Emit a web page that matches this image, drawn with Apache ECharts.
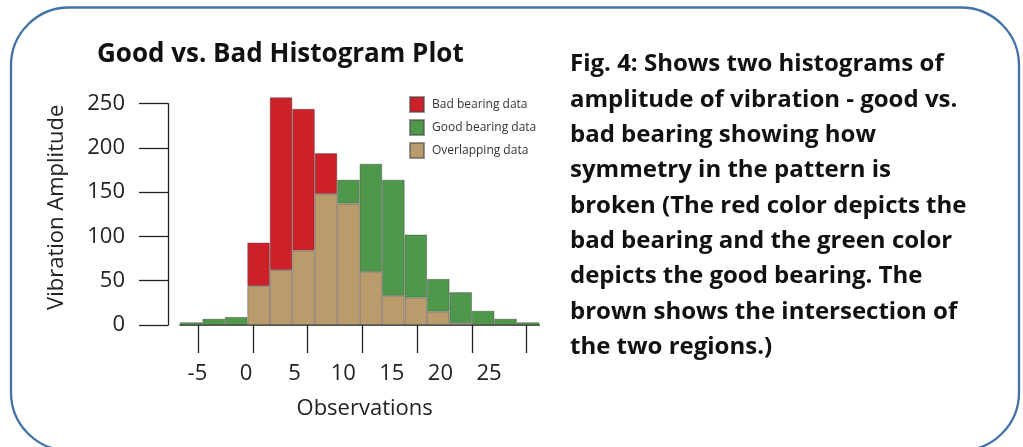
<!DOCTYPE html>
<html><head><meta charset="utf-8">
<script src="https://cdn.jsdelivr.net/npm/echarts@6/dist/echarts.min.js"></script>
<style>html,body{margin:0;padding:0;background:#fff}#c{width:1023px;height:447px}</style>
</head><body><div id="c"></div>
<script>
// histogram bins (approximate bin centres, observations)
const bins = ['-5.6','-3.6','-1.5','0.5','2.6','4.6','6.7','8.7','10.8','12.8','14.9','16.9','19.0','21.0','23.1','25.1'];
const badBearing  = [0, 0, 0, 93, 257, 244, 194, 137, 60, 33, 31, 15, 2, 0, 0, 0];
const goodBearing = [3, 7, 9, 44, 62, 84, 148, 164, 182, 164, 102, 52, 37, 16, 7, 3];
const xTickValues = [-5, 0, 5, 10, 15, 20, 25];
const yTickValues = [0, 50, 100, 150, 200, 250];
const titleText = 'Good vs. Bad Histogram Plot';
const captionLines = [
  'Fig. 4: Shows two histograms of',
  'amplitude of vibration - good vs.',
  'bad bearing showing how',
  'symmetry in the pattern is',
  'broken (The red color depicts the',
  'bad bearing and the green color',
  'depicts the good bearing. The',
  'brown shows the intersection of',
  'the two regions.)'
];

const nz = v => (v > 0 ? v : null);
const overlap = badBearing.map((b, i) => nz(Math.min(b, goodBearing[i])));
const badOnly = badBearing.map((b, i) => nz(b - goodBearing[i]));
const goodOnly = goodBearing.map((g, i) => nz(g - badBearing[i]));

const FONT = '"Open Sans", "Noto Sans", sans-serif';
const AX = '#222';
const chart = echarts.init(document.getElementById('c'), null, {renderer: 'canvas'});

const barBase = {
  type: 'bar', stack: 'hist', xAxisIndex: 0, yAxisIndex: 0,
  barCategoryGap: '0%', clip: false,
  itemStyle: {borderColor: 'rgba(70,70,70,0.55)', borderWidth: 0.8}
};

chart.setOption({
  animation: false,
  backgroundColor: '#fff',
  textStyle: {fontFamily: FONT},
  title: {
    text: titleText, left: 97, top: 42, padding: 0,
    textStyle: {fontFamily: FONT, fontWeight: 'bold', fontSize: 26, color: '#111'}
  },
  legend: {
    orient: 'vertical', left: 409, top: 96, padding: 0,
    itemWidth: 14, itemHeight: 15, itemGap: 6,
    icon: 'rect',
    data: ['Bad bearing data', 'Good bearing data', 'Overlapping data'],
    textStyle: {fontFamily: FONT, fontSize: 12, color: '#333', padding: [0, 0, 0, 3]}
  },
  grid: {left: 180, right: 483.7, top: 103.6, bottom: 122, containLabel: false},
  xAxis: [
    { // bins
      type: 'category', data: bins, position: 'bottom', boundaryGap: true,
      axisLine: {show: true, onZero: false, lineStyle: {color: AX, width: 1.5}},
      axisTick: {show: false}, axisLabel: {show: false}, splitLine: {show: false}
    },
    { // tick marks
      type: 'value', position: 'bottom', min: -6.673, max: 26.17,
      axisLine: {show: false, onZero: false}, splitLine: {show: false},
      axisTick: {show: true, customValues: xTickValues, length: 28, lineStyle: {color: AX, width: 1.3}},
      axisLabel: {show: false}
    },
    { // tick labels
      type: 'value', position: 'bottom', min: -6.79, max: 30.17,
      axisLine: {show: false, onZero: false}, splitLine: {show: false}, axisTick: {show: false},
      axisLabel: {show: true, customValues: xTickValues, margin: 38, fontSize: 22, color: AX, fontFamily: FONT},
      name: 'Observations', nameLocation: 'middle', nameGap: 73,
      nameTextStyle: {fontSize: 22, color: AX, fontFamily: FONT, padding: [0, 0, 0, 10]}
    }
  ],
  yAxis: {
    type: 'value', min: 0, max: 250, interval: 50, offset: 12,
    axisLine: {show: true, onZero: false, lineStyle: {color: AX, width: 1.3}},
    axisTick: {show: true, length: 29, lineStyle: {color: AX, width: 1.3}},
    axisLabel: {margin: 43, fontSize: 22, color: AX, fontFamily: FONT},
    splitLine: {show: false},
    name: 'Vibration Amplitude', nameLocation: 'middle', nameGap: 100,
    nameTextStyle: {fontSize: 22, color: AX, fontFamily: FONT, padding: [0, 0, 0, 14]}
  },
  series: [
    Object.assign({}, barBase, {name: 'Overlapping data', data: overlap, itemStyle: Object.assign({}, barBase.itemStyle, {color: '#ba9b6c'})}),
    Object.assign({}, barBase, {name: 'Bad bearing data', data: badOnly, itemStyle: Object.assign({}, barBase.itemStyle, {color: '#cc2129'})}),
    Object.assign({}, barBase, {name: 'Good bearing data', data: goodOnly, itemStyle: Object.assign({}, barBase.itemStyle, {color: '#4f974a'})})
  ],
  graphic: [
    {
      type: 'rect', silent: true, z: -1,
      shape: {x: 11, y: 7.5, width: 1008, height: 443, r: 58},
      style: {fill: 'none', stroke: '#4272a8', lineWidth: 2.3}
    },
    {
      type: 'text', left: 570, top: 47,
      style: {
        text: captionLines.join('\n'), fill: '#111',
        font: 'bold 24px ' + FONT, lineHeight: 35.3
      }
    }
  ]
});
</script></body></html>
